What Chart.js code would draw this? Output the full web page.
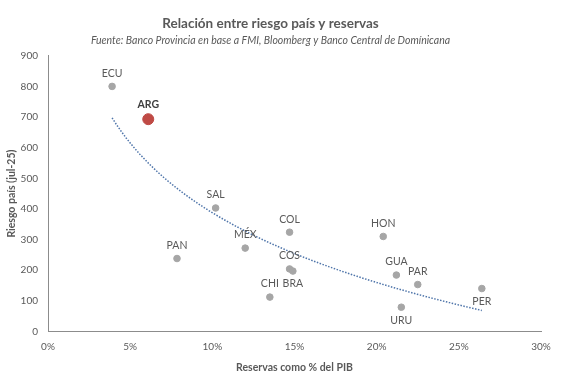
<!DOCTYPE html>
<html>
<head>
<meta charset="utf-8">
<script src="https://cdn.jsdelivr.net/npm/chart.js@4/dist/chart.umd.min.js"></script>
<style>
  html, body { margin: 0; padding: 0; background: #fff; }
  #wrap { width: 581px; height: 384px; position: relative; }
</style>
</head>
<body>
<div id="wrap"><canvas id="c" width="581" height="384"></canvas></div>
<script>
// ---- data ----
const countries = ['ECU','ARG','SAL','PAN','MÉX','COL','COS','BRA','CHI','HON','GUA','PAR','PER','URU'];
const reservasPct = [3.9, 6.1, 10.2, 7.85, 12.0, 14.7, 14.7, 14.9, 13.5, 20.4, 21.2, 22.5, 26.4, 21.5];
const riesgoPais = [800, 693, 403, 238, 272, 324, 204, 197, 112, 310, 184, 153, 140, 79];
const xTicks = [0, 5, 10, 15, 20, 25, 30];
const yTicks = [0, 100, 200, 300, 400, 500, 600, 700, 800, 900];
const highlight = 'ARG';
// label placement (layout)
const labelSide = ['top','top','top','top','top','top','top','bottom','top','top','top','top','bottom','bottom'];

// ---- logarithmic trendline (least squares y = a + b ln x), as in the source chart ----
function logFit(xs, ys) {
  const n = xs.length;
  const lx = xs.map(Math.log);
  const mx = lx.reduce((s, v) => s + v, 0) / n;
  const my = ys.reduce((s, v) => s + v, 0) / n;
  let sxy = 0, sxx = 0;
  for (let i = 0; i < n; i++) { sxy += (lx[i] - mx) * (ys[i] - my); sxx += (lx[i] - mx) ** 2; }
  const b = sxy / sxx;
  return { a: my - b * mx, b };
}
const fit = logFit(reservasPct, riesgoPais);
const xMin = Math.min(...reservasPct), xMax = Math.max(...reservasPct);
const trend = [];
for (let i = 0; i <= 80; i++) {
  const x = xMin + (xMax - xMin) * i / 80;
  trend.push({ x, y: fit.a + fit.b * Math.log(x) });
}

const points = reservasPct.map((x, i) => ({ x, y: riesgoPais[i] }));
const TXT = '#595959';
const FONT = 'Lato, "Open Sans", sans-serif';

const labelPlugin = {
  id: 'pointLabels',
  afterDatasetsDraw(chart) {
    const meta = chart.getDatasetMeta(1);
    const ctx = chart.ctx;
    ctx.save();
    ctx.textAlign = 'center';
    ctx.textBaseline = 'middle';
    meta.data.forEach((el, i) => {
      const isH = countries[i] === highlight;
      ctx.font = (isH ? 'bold ' : '') + '10.5px ' + FONT;
      ctx.fillStyle = isH ? '#404040' : TXT;
      const dy = labelSide[i] === 'top' ? (isH ? -15 : -13) : 13;
      ctx.fillText(countries[i], el.x, el.y + dy);
    });
    ctx.restore();
  }
};

new Chart(document.getElementById('c'), {
  type: 'scatter',
  data: {
    datasets: [
      {
        type: 'line',
        data: trend,
        borderColor: '#4f75aa',
        borderWidth: 1.5,
        borderDash: [1.5, 1.5],
        pointRadius: 0,
        fill: false,
        tension: 0
      },
      {
        data: points,
        backgroundColor: ctx => countries[ctx.dataIndex] === highlight ? '#bf4a45' : '#a6a6a6',
        borderColor: ctx => countries[ctx.dataIndex] === highlight ? '#bf4a45' : '#a6a6a6',
        pointRadius: ctx => countries[ctx.dataIndex] === highlight ? 5.5 : 3.3,
        pointHoverRadius: ctx => countries[ctx.dataIndex] === highlight ? 5.5 : 3.3
      }
    ]
  },
  options: {
    responsive: false,
    animation: false,
    events: [],
    layout: { padding: { left: 0, right: 40, top: 0, bottom: 10 } },
    plugins: {
      legend: { display: false },
      tooltip: { enabled: false },
      title: {
        display: true,
        text: 'Relación entre riesgo país y reservas',
        color: TXT,
        font: { family: FONT, size: 13.5, weight: 'bold' },
        padding: { top: 16, bottom: 2 }
      },
      subtitle: {
        display: true,
        text: 'Fuente: Banco Provincia en base a FMI, Bloomberg y Banco Central de Domínicana',
        color: TXT,
        font: { family: FONT, size: 10.5, style: 'italic' },
        padding: { top: 0, bottom: 9 }
      }
    },
    scales: {
      x: {
        type: 'linear',
        min: xTicks[0],
        max: xTicks[xTicks.length - 1],
        afterBuildTicks: s => { s.ticks = xTicks.map(v => ({ value: v })); },
        ticks: { color: TXT, font: { family: FONT, size: 10 }, padding: 9, callback: v => v + '%' },
        grid: { display: false, drawTicks: false },
        border: { display: true, color: '#8c8c8c', width: 1 },
        title: { display: true, text: 'Reservas como % del PIB', color: TXT, font: { family: FONT, size: 10.5, weight: 'bold' }, padding: { top: 0, bottom: 0 } }
      },
      y: {
        min: yTicks[0],
        max: yTicks[yTicks.length - 1],
        afterBuildTicks: s => { s.ticks = yTicks.map(v => ({ value: v })); },
        ticks: { color: TXT, font: { family: FONT, size: 10 }, padding: 10 },
        grid: { display: false, drawTicks: false },
        border: { display: true, color: '#8c8c8c', width: 1 },
        title: { display: true, text: 'Riesgo país (jul-25)', color: TXT, font: { family: FONT, size: 10.5, weight: 'bold' }, padding: { top: 5, bottom: 0 } },
        afterFit: s => { s.width = 48; }
      }
    }
  },
  plugins: [labelPlugin]
});
</script>
</body>
</html>
